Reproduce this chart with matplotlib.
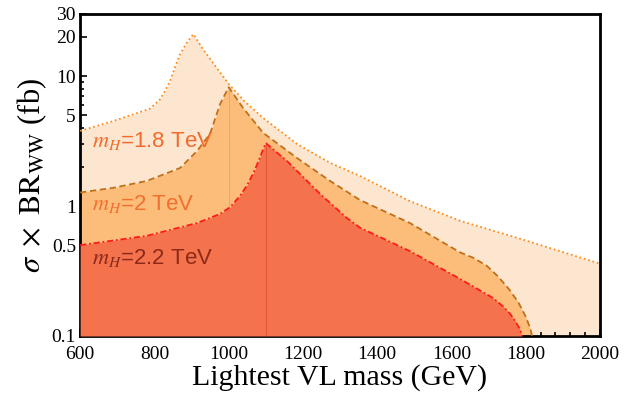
import numpy as np
import matplotlib.pyplot as plt
from matplotlib.ticker import FixedLocator, MultipleLocator, NullFormatter

plt.rcParams['font.family'] = ['Liberation Serif', 'DejaVu Serif']
plt.rcParams['mathtext.fontset'] = 'stix'

# lightest VL mass (GeV) and sigma x BR_WW (fb)
m18 = [600, 689, 788, 815, 828, 842, 855, 869, 887, 905, 930, 958, 1000, 1040, 1093, 1184,
       1273, 1354, 1488, 1623, 1785, 2000]
v18 = [3.78, 4.5, 5.6, 6.6, 7.6, 9.1, 11.6, 14.7, 18.0, 21.0, 16.2, 12.6, 8.7, 6.5, 4.75, 3.0,
       2.15, 1.7, 1.09, 0.77, 0.56, 0.36]

m20 = [600, 689, 780, 869, 915, 950, 977, 1000, 1039, 1093, 1184, 1273, 1354, 1488, 1623,
       1660, 1695, 1725, 1755, 1780, 1800, 1812, 1817]
v20 = [1.27, 1.38, 1.56, 1.96, 2.65, 3.6, 6.1, 8.2, 5.67, 3.65, 2.34, 1.56, 1.11, 0.74, 0.44,
       0.398, 0.347, 0.288, 0.229, 0.182, 0.141, 0.115, 0.1]

m22 = [600, 780, 915, 977, 1004, 1031, 1050, 1066, 1080, 1090, 1100, 1157, 1246, 1318, 1354,
       1488, 1623, 1712, 1740, 1758, 1772, 1785, 1790]
v22 = [0.50, 0.59, 0.74, 0.87, 0.98, 1.2, 1.45, 1.78, 2.2, 2.6, 3.05, 2.22, 1.24, 0.81, 0.68,
       0.45, 0.275, 0.196, 0.168, 0.148, 0.13, 0.112, 0.1]

labels = ['$m_H$=1.8 TeV', '$m_H$=2 TeV', '$m_H$=2.2 TeV']
label_pos = [(632, 3.15), (632, 1.04), (632, 0.40)]

fill_cols = ['#fde6d0', '#fdbd7a', '#f4734c']
line_cols = ['#ff8c1a', '#c0701a', '#ff1a1a']
seam_cols = ['#fcd7b5', '#f5a660', '#e0583a']
text_cols = ['#f26a2a', '#f07030', '#8b2a1a']
styles = [(0, (1, 1.5)), (0, (3.5, 2)), (0, (3.5, 1.5, 1, 1.5))]

fig = plt.figure(figsize=(6.41, 4.0), dpi=100)
ax = fig.add_axes([0.125, 0.16, 0.811, 0.805])

ymin = 0.1
for i, (m, v) in enumerate([(m18, v18), (m20, v20), (m22, v22)]):
    m = np.array(m)
    v = np.array(v)
    ax.fill_between(m, ymin, v, color=fill_cols[i], lw=0, zorder=1 + i)
    if i > 0:
        k = np.argmax(v)
        ax.vlines(m[k], ymin, v[k], color=seam_cols[i], lw=0.8, zorder=1 + i)
for i, (m, v) in enumerate([(m18, v18), (m20, v20), (m22, v22)]):
    ax.plot(m, v, color=line_cols[i], lw=1.3, linestyle=styles[i], zorder=5)

for i, t in enumerate(labels):
    ax.text(label_pos[i][0], label_pos[i][1], t, color=text_cols[i], fontsize=16,
            family=['Liberation Sans', 'DejaVu Sans'], va='center', ha='left', zorder=6)

ax.set_xlim(600, 2000)
ax.set_yscale('log')
ax.set_ylim(0.1, 30)
ax.xaxis.set_major_locator(MultipleLocator(200))
ax.xaxis.set_minor_locator(MultipleLocator(40))
yt = [0.1, 0.5, 1, 5, 10, 20, 30]
ax.yaxis.set_major_locator(FixedLocator(yt))
ax.set_yticklabels(['0.1', '0.5', '1', '5', '10', '20', '30'])
minor = [k * 10.0 ** e for e in (-1, 0, 1) for k in range(2, 10)]
ax.yaxis.set_minor_locator(FixedLocator([t for t in minor if t not in yt and t < 30]))
ax.yaxis.set_minor_formatter(NullFormatter())

ax.tick_params(which='both', direction='in', top=False, right=False, labelsize=14, width=1.2)
ax.tick_params(which='major', length=5)
ax.tick_params(which='minor', length=3)
ax.tick_params(axis='y', pad=3)
ax.tick_params(axis='x', pad=7)
for s in ax.spines.values():
    s.set_linewidth(2)

ax.set_xlabel('Lightest VL mass (GeV)', fontsize=21.5, labelpad=1)
ax.set_ylabel(r'$\sigma\ \times\ \mathrm{BR}_{\mathrm{WW}}$ (fb)', fontsize=22, labelpad=2)

fig.savefig('out.png', dpi=100)
